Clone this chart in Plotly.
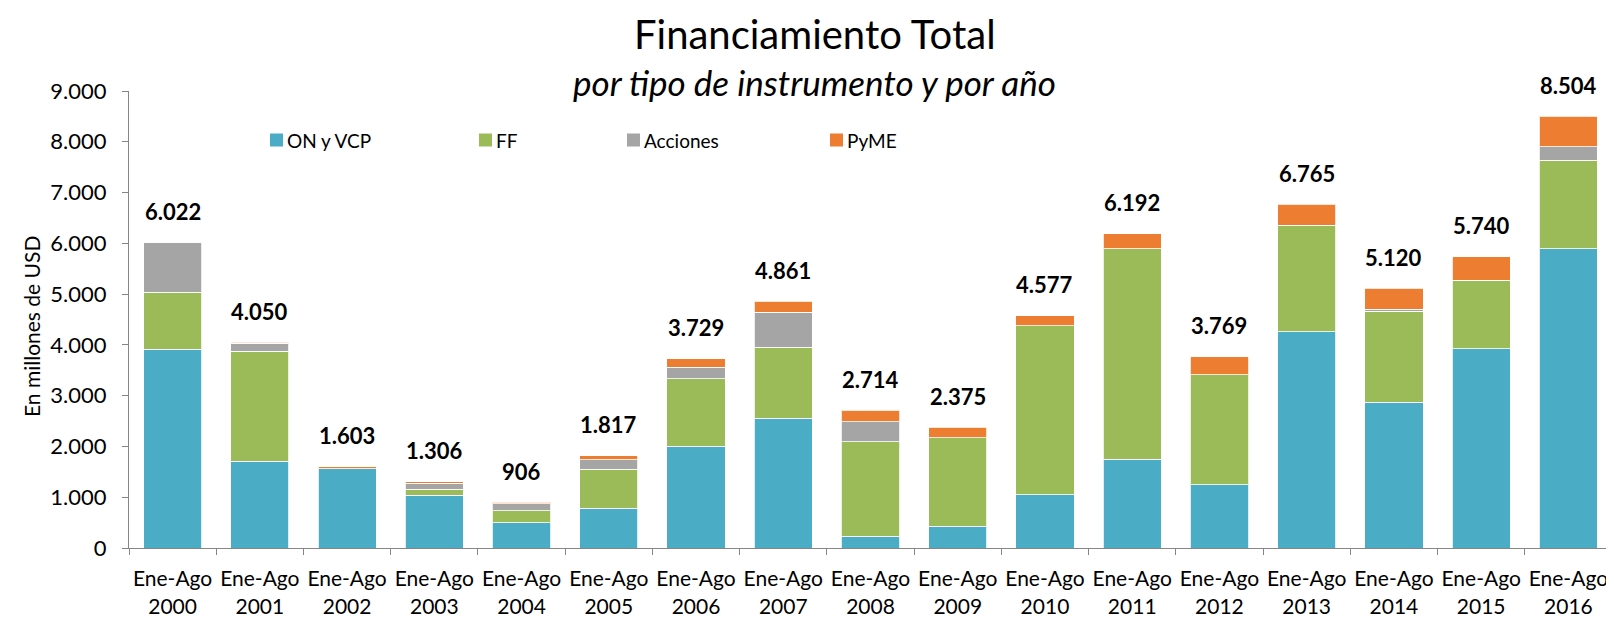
import plotly.graph_objects as go

years = ["2000", "2001", "2002", "2003", "2004", "2005", "2006", "2007", "2008",
         "2009", "2010", "2011", "2012", "2013", "2014", "2015", "2016"]
categories = ["Ene-Ago<br>" + y for y in years]

on_vcp   = [3910, 1705, 1560, 1040, 500, 780, 2005, 2560, 236, 430, 1050, 1745, 1245, 4260, 2875, 3920, 5890]
ff       = [1125, 2170, 5, 115, 230, 770, 1325, 1390, 1856, 1740, 3325, 4145, 2165, 2100, 1785, 1350, 1745]
acciones = [987, 155, 0, 120, 145, 190, 230, 695, 393, 0, 0, 0, 0, 0, 40, 0, 270]
pyme     = [0, 20, 38, 31, 31, 77, 169, 216, 229, 205, 202, 302, 359, 405, 420, 470, 599]
totals   = [6022, 4050, 1603, 1306, 906, 1817, 3729, 4861, 2714, 2375, 4577, 6192, 3769, 6765, 5120, 5740, 8504]
total_labels = ["6.022", "4.050", "1.603", "1.306", "906", "1.817", "3.729", "4.861", "2.714",
                "2.375", "4.577", "6.192", "3.769", "6.765", "5.120", "5.740", "8.504"]

series_names = ["ON y VCP", "FF", "Acciones", "PyME"]
series_values = [on_vcp, ff, acciones, pyme]
colors = ["#4BACC6", "#9BBB59", "#A5A5A5", "#ED7D31"]

FONT = "Lato, 'Open Sans', sans-serif"

# page body has an 8px default margin -> figure is offset by 8px
OFF = 8
W, H = 1606, 611
L, R, T, B = 121, 2, 83, 71
plot_h = H - T - B
plot_w = W - L - R

def py(p_page):
    return (H - B - (p_page - OFF)) / plot_h

def px(p_page):
    return ((p_page - OFF) - L) / plot_w

fig = go.Figure()
for name, vals, col in zip(series_names, series_values, colors):
    fig.add_trace(go.Bar(
        x=categories, y=vals, name=name,
        marker=dict(color=col, line=dict(color="rgba(255,255,255,0.8)", width=1)),
        showlegend=False,
    ))

annotations = []
for c, t, lab in zip(categories, totals, total_labels):
    annotations.append(dict(x=c, y=t, text="<b>" + lab + "</b>", showarrow=False,
                            yanchor="middle", yshift=31,
                            font=dict(family=FONT, size=22, color="#000000")))

annotations.append(dict(x=px(815), y=py(34), xref="paper", yref="paper",
                        text="Financiamiento Total", showarrow=False,
                        font=dict(family=FONT, size=40, color="#000000"),
                        xanchor="center", yanchor="middle"))
annotations.append(dict(x=px(814), y=py(82), xref="paper", yref="paper",
                        text="<i>por tipo de instrumento y por año</i>", showarrow=False,
                        font=dict(family=FONT, size=35, color="#000000"),
                        xanchor="center", yanchor="middle"))
annotations.append(dict(x=px(31), y=py(327), xref="paper", yref="paper",
                        text="En millones de USD", showarrow=False, textangle=-90,
                        font=dict(family=FONT, size=21, color="#000000"),
                        xanchor="center", yanchor="middle"))

# custom legend (square + text), Excel-like spacing
legend_sq_left = [270, 479, 627, 830]
shapes = []
for name, col, sx in zip(series_names, colors, legend_sq_left):
    shapes.append(dict(type="rect", xref="paper", yref="paper",
                       x0=px(sx), x1=px(sx + 13), y0=py(146.5), y1=py(133.5),
                       fillcolor=col, line=dict(width=0)))
    annotations.append(dict(x=px(sx + 15), y=py(140), xref="paper", yref="paper",
                            text=name, showarrow=False, xanchor="left", yanchor="middle",
                            font=dict(family=FONT, size=19, color="#000000")))

fig.update_layout(
    width=W, height=H,
    margin=dict(l=L, r=R, t=T, b=B, autoexpand=False),
    barmode="stack", bargap=0.333,
    plot_bgcolor="white", paper_bgcolor="white",
    separators=",.",
    font=dict(family=FONT, size=21, color="#000000"),
    annotations=annotations,
    shapes=shapes,
    showlegend=False,
    xaxis=dict(showline=True, linecolor="#868686", linewidth=1.3,
               ticks="outside", tickson="boundaries", ticklen=6, tickcolor="#868686",
               tickangle=0, ticklabelstandoff=12,
               tickfont=dict(family=FONT, size=21, color="#000000"),
               showgrid=False, fixedrange=True, automargin=False),
    yaxis=dict(range=[0, 9000], dtick=1000, tickformat=",d",
               showline=True, linecolor="#868686", linewidth=1.3,
               ticks="outside", ticklen=6, tickcolor="#868686",
               ticklabelstandoff=11,
               tickfont=dict(family=FONT, size=22, color="#000000"),
               showgrid=False, zeroline=False, fixedrange=True, automargin=False),
)

fig.write_html("out.html")
